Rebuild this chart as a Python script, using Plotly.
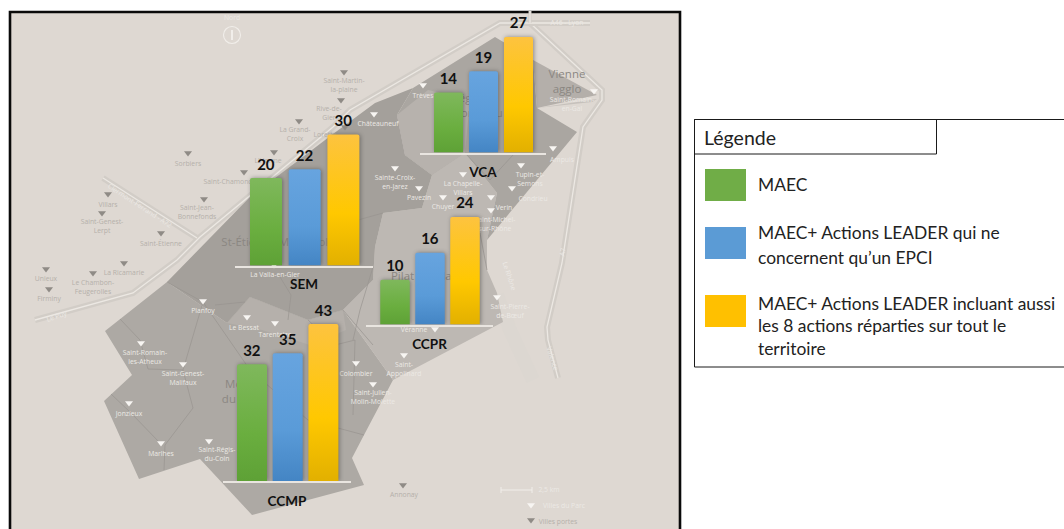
import plotly.graph_objects as go

# ---------- data ----------
groups = ["SEM", "VCA", "CCPR", "CCMP"]
series = ["MAEC", "MAEC+ Actions LEADER (EPCI)", "MAEC+ Actions LEADER (8 actions)"]
maec = [20, 14, 10, 32]
leader_epci = [22, 19, 16, 35]
leader_all = [30, 27, 24, 43]
series_colors = ["#6aae3f", "#5a9bd8", "#ffc800"]

legend_title = "Légende"
legend_items = [
    ["MAEC"],
    ["MAEC+ Actions LEADER qui ne", "concernent qu’un EPCI"],
    ["MAEC+ Actions LEADER incluant aussi", "les 8 actions réparties sur tout le", "territoire"],
]
legend_colors = ["#70ad47", "#5b9bd5", "#ffc000"]

park_cities = ["Planfoy", "Le Bessat", "Tarentaize", "Saint-Romain-<br>les-Atheux", "Saint-Genest-<br>Malifaux",
               "Jonzieux", "Marlhes", "Saint-Régis-<br>du-Coin", "Colombier", "Saint-Julien-<br>Molin-Molette",
               "Saint-<br>Appolinard", "Véranne", "Saint-Pierre-<br>de-Bœuf", "Châteauneuf", "Trèves",
               "Sainte-Croix-<br>en-Jarez", "Pavezin", "Chuyer", "La Chapelle-<br>Villars", "Condrieu", "Verin",
               "Saint-Michel-<br>sur-Rhône", "Tupin-et-<br>Semons", "Ampuis", "Saint-Romain-<br>en-Gal",
               "La Valla-en-Gier", "Villes du Parc"]
gate_cities = ["Sorbiers", "Saint-Chamond", "La Grand-<br>Croix", "Lorette", "Rive-de-<br>Gier", "Saint-Martin-<br>la-plaine",
               "L'Horme", "Saint-Jean-<br>Bonnefonds", "Villars", "Saint-Genest-<br>Lerpt", "Saint-Étienne",
               "La Ricamarie", "Le Chambon-<br>Feugerolles", "Unieux", "Firminy", "Annonay", "Villes portes"]

# ---------- page geometry (pixels of the 1064x529 page) ----------
W, H = 1064, 529
# baseline left, right, y, first bar centre, pitch, bar width, px per unit, title standoff
group_geo = {
    "SEM": (235, 373, 265.5, 266, 38.7, 32, 4.37, 13),
    "VCA": (420, 546, 152.5, 448.5, 35, 29, 4.28, 14),
    "CCPR": (366, 493, 324.5, 395, 35, 29.5, 4.48, 14),
    "CCMP": (223, 351, 481, 252, 35.7, 30, 3.65, 15),
}

park_marks = [(203, 301), (247, 317), (275, 323), (141, 343), (183, 364), (129, 403), (161, 443), (209, 441), (356, 363),
              (373, 384), (404, 355), (435, 329), (497, 297), (374, 114), (423, 85), (395, 168), (419, 188), (443, 197),
              (463, 174), (512, 188), (491, 197), (491, 210), (521, 165), (553, 148), (594, 91), (274, 265), (531, 505)]
park_labels = [(203, 311), (244, 328), (275, 335), (145, 358), (183, 379), (129, 414), (161, 454), (217, 455), (356, 374),
               (373, 398), (404, 370), (414, 330), (510, 312), (378, 124), (423, 96), (395, 183), (419, 198), (443, 207),
               (463, 189), (533, 199), (504, 208), (495, 225), (530, 180), (562, 160), (572, 105), (275, 275), (564, 506)]
gate_marks = [(188, 153), (244, 172), (299, 121), (345, 127), (341, 100), (344, 72), (274, 152), (204, 199), (108, 194),
              (102, 213), (161, 233), (124, 263), (93, 273), (46, 269), (49, 289), (403, 485), (531, 520)]
gate_labels = [(188, 164), (228, 182), (295, 135), (325, 135), (329, 114), (344, 86), (268, 161), (197, 213), (108, 205),
               (102, 227), (161, 244), (124, 273), (93, 288), (46, 279), (49, 299), (404, 495), (558, 522)]

territory = [
    ((105, 331), (167, 282), (227, 323), (250, 297), (308, 320), (343, 310), (393, 380), (364, 435), (352, 458),
     (364, 485), (252, 515), (200, 459), (139, 479), (104, 401), (132, 375), "#adA9a4"),
    ((227, 323), (250, 297), (308, 320), (343, 310), (346, 330), (310, 345), (262, 330), "#b5b0ab"),
    ((343, 310), (373, 280), (375, 247), (383, 213), (422, 208), (432, 175), (465, 153), (497, 193), (487, 240),
     (487, 270), (497, 293), (503, 322), (393, 380), "#bdb8b3"),
    ((167, 282), (227, 323), (250, 297), (308, 320), (343, 310), (373, 280), (375, 247), (383, 213), (422, 208), (432, 175),
     (405, 155), (397, 115), (413, 88), (375, 103), (333, 134), (250, 197), "#a4a09b"),
    ((413, 88), (495, 37), (533, 60), (537, 108), (577, 132), (487, 240), (497, 193), (465, 153), (432, 175), (405, 155),
     (397, 115), "#aaa6a1"),
    ((397, 115), (428, 90), (470, 100), (465, 153), (432, 175), (405, 155), "#b7b2ad"),
    ((533, 60), (597, 95), (537, 108), "#b4afaa"),
    ((537, 108), (597, 99), (592, 102), "#c6c1bc"),
]
inner_lines = [
    [(120, 319), (140, 340), (148, 369), (183, 370), (193, 408), (165, 445), (164, 470)],
    [(111, 394), (130, 412), (160, 443)],
    [(203, 302), (183, 370)],
    [(167, 282), (203, 302), (250, 370), (308, 420), (364, 435)],
    [(215, 305), (245, 302)],
    [(308, 320), (335, 345), (355, 340), (353, 415)],
    [(280, 277), (291, 295), (288, 320)],
    [(383, 213), (340, 225)],
    [(465, 153), (490, 180), (513, 155)],
    [(480, 233), (487, 270)],
    [(373, 267), (360, 310), (353, 340)],
    [(343, 310), (373, 345)],
]
road_main = [(35, 320), (133, 293), (177, 260), (200, 237), (333, 127), (350, 110), (500, 23), (530, 23), (602, 90),
             (602, 100), (583, 127), (562, 263), (547, 327), (548, 340), (558, 378)]
road_a72 = [(103, 178), (197, 238)]
road_a46 = [(530, 23), (590, 23)]
road_north = [(530, 11), (530, 23)]
river = [(497, 295), (510, 330), (533, 380)]


def svg_path(points, closed=True):
    cmd = "M" + " L".join(f"{x},{y}" for x, y in points)
    return cmd + (" Z" if closed else "")


fig = go.Figure()
shapes = []
# map frame
shapes.append(dict(type="rect", xref="x", yref="y", x0=10, y0=12, x1=680, y1=540, fillcolor="#ded8d2",
                   line=dict(color="#0a0a0a", width=2.6), layer="below"))
# faint river & roads
shapes.append(dict(type="path", xref="x", yref="y", path=svg_path(river, False), line=dict(color="#dcd7d1", width=14), layer="below"))
for pts, w in [(road_main, 6), (road_a72, 6), (road_a46, 6), (road_north, 3)]:
    shapes.append(dict(type="path", xref="x", yref="y", path=svg_path(pts, False), line=dict(color="#d2cdc7", width=w), layer="below"))
    shapes.append(dict(type="path", xref="x", yref="y", path=svg_path(pts, False), line=dict(color="#ece8e3", width=1.3), layer="below"))
# territory
for poly in territory:
    shapes.append(dict(type="path", xref="x", yref="y", path=svg_path(poly[:-1]), fillcolor=poly[-1],
                       line=dict(width=0), layer="below"))
for pts in inner_lines:
    shapes.append(dict(type="path", xref="x", yref="y", path=svg_path(pts, False), line=dict(color="#98948f", width=0.7), layer="below"))
# compass & scale bar
shapes.append(dict(type="circle", xref="x", yref="y", x0=223.5, y0=26.5, x1=240.5, y1=43.5,
                   line=dict(color="#f1eeea", width=1.1), layer="below"))
shapes.append(dict(type="line", xref="x", yref="y", x0=232, y0=30, x1=232, y1=40, line=dict(color="#f1eeea", width=2), layer="below"))
shapes.append(dict(type="line", xref="x", yref="y", x0=501, y0=490, x1=532, y1=490, line=dict(color="#f1eeea", width=1), layer="below"))
shapes.append(dict(type="line", xref="x", yref="y", x0=501, y0=487, x1=501, y1=493, line=dict(color="#f1eeea", width=1), layer="below"))
shapes.append(dict(type="line", xref="x", yref="y", x0=532, y0=487, x1=532, y1=493, line=dict(color="#f1eeea", width=1), layer="below"))
# legend box
shapes.append(dict(type="rect", xref="x", yref="y", x0=694.5, y0=119.5, x1=1070, y1=367, line=dict(color="#1a1a1a", width=1), fillcolor="#ffffff", layer="below"))
shapes.append(dict(type="rect", xref="x", yref="y", x0=694.5, y0=119.5, x1=936.5, y1=154, line=dict(color="#1a1a1a", width=1), layer="below"))
for c, (y0, y1) in zip(legend_colors, [(169, 201), (227, 259), (295, 327)]):
    shapes.append(dict(type="rect", xref="x", yref="y", x0=705, y0=y0, x1=746, y1=y1, fillcolor=c, line=dict(width=0), layer="below"))

# base map layer: full-page axis, drawn first so the bars cover it
fig.add_trace(go.Scatter(x=[p[0] for p in gate_marks], y=[p[1] for p in gate_marks], mode="markers", hoverinfo="skip",
                         marker=dict(symbol="triangle-down", size=7, color="#8f8b86"), showlegend=False))
fig.add_trace(go.Scatter(x=[p[0] for p in park_marks], y=[p[1] for p in park_marks], mode="markers", hoverinfo="skip",
                         marker=dict(symbol="triangle-down", size=7, color="#f7f5f2"), showlegend=False))
fig.add_trace(go.Scatter(x=[p[0] for p in gate_labels], y=[p[1] for p in gate_labels], mode="text", text=gate_cities, hoverinfo="skip",
                         textfont=dict(family="Open Sans", size=6.8, color="#b5b0aa"), showlegend=False))
fig.add_trace(go.Scatter(x=[p[0] for p in park_labels], y=[p[1] for p in park_labels], mode="text", text=park_cities, hoverinfo="skip",
                         textfont=dict(family="Open Sans", size=6.8, color="#ece9e5"), showlegend=False))
# big place names and road names below the bars
fig.add_trace(go.Scatter(
    x=[278, 242, 433, 567, 470], y=[243, 393, 277, 83, 107],
    text=["St-Étienne Métropole", "Monts<br>du Pilat", "Pilat Rhodanien", "Vienne<br>agglo", "Région<br>de Condrieu"],
    mode="text", hoverinfo="skip", showlegend=False,
    textfont=dict(family="Open Sans", size=11.5, color="#8b8782")))
fig.add_trace(go.Scatter(
    x=[232, 567, 549], y=[18, 23, 490], text=["Nord", "A46 - Lyon", "2,5 km"],
    mode="text", hoverinfo="skip", showlegend=False,
    textfont=dict(family="Open Sans", size=6.8, color="#ece9e5")))

layout_axes = dict(
    xaxis=dict(domain=[0, 1], range=[0, W], visible=False, fixedrange=True),
    yaxis=dict(domain=[0, 1], range=[H, 0], visible=False, fixedrange=True),
)

values_by_group = list(zip(maec, leader_epci, leader_all))
for i, (g, vals) in enumerate(zip(groups, values_by_group)):
    n = i + 2
    left, right, base, first, pitch, bw, scale, standoff = group_geo[g]
    top = max(vals) + 8
    fig.add_trace(go.Bar(
        x=series, y=list(vals), xaxis=f"x{n}", yaxis=f"y{n}", width=bw / pitch,
        marker=dict(color=series_colors, line=dict(width=0), cornerradius=2),
        text=[str(v) for v in vals], textposition="outside", cliponaxis=False,
        textangle=0, constraintext="none",
        textfont=dict(family="Lato", size=15, color="#111111", weight="bold"),
        showlegend=False, hovertemplate=g + " – %{x}: %{y}<extra></extra>",
    ))
    layout_axes[f"xaxis{n}"] = dict(
        domain=[left / W, right / W], anchor=f"y{n}", type="category", categoryorder="array", categoryarray=series,
        range=[(left - first) / pitch, (right - first) / pitch], showgrid=False, zeroline=False,
        showticklabels=False, ticks="", showline=True, linecolor="#e9e5e0", linewidth=1.6, fixedrange=True,
        title=dict(text=f"<b>{g}</b>", standoff=standoff, font=dict(family="Lato", size=13.5, color="#111111")),
    )
    layout_axes[f"yaxis{n}"] = dict(
        domain=[1 - base / H, 1 - (base - top * scale) / H], anchor=f"x{n}", range=[0, top], visible=False,
        fixedrange=True,
    )

# legend text
annotations = [dict(text=legend_title, x=701.5, y=137, xref="x", yref="y", xanchor="left", yanchor="middle", showarrow=False,
                    font=dict(family="Lato", size=19.5, color="#222222"))]
legend_line_y = [[184], [232, 257], [303, 325, 348]]
for lines, ys in zip(legend_items, legend_line_y):
    for line, y in zip(lines, ys):
        annotations.append(dict(text=line, x=755.5, y=y, xref="x", yref="y", xanchor="left", yanchor="middle", showarrow=False,
                                font=dict(family="Lato", size=17.4, color="#222222")))
for txt, x, y, ang in [("Clermont-Ferrand - A72", 140, 205, 33), ("Le Puy", 56, 316, -18), ("A7", 562, 252, -80),
                       ("Valence", 553, 358, 72), ("Le Rhône", 510, 276, 72)]:
    annotations.append(dict(text=txt, x=x, y=y, xref="x", yref="y", showarrow=False, textangle=ang,
                            font=dict(family="Open Sans", size=6.8, color="#ece9e5")))

fig.update_layout(
    width=W, height=H, autosize=False, margin=dict(l=0, r=0, t=0, b=0), paper_bgcolor="#ffffff", plot_bgcolor="rgba(0,0,0,0)",
    barmode="overlay", shapes=shapes, annotations=annotations, showlegend=False, **layout_axes,
)

post = """
document.body.style.margin = '0';
var gd = document.getElementsByClassName('plotly-graph-div')[0];
var stops = [['#7fb85c','#6aae3f','#5ea136'],['#67a4df','#5a9bd8','#4485c4'],['#fdc33f','#ffc800','#e2b000']];
var svg = gd.querySelector('svg.main-svg');
var ns = 'http://www.w3.org/2000/svg';
var defs = document.createElementNS(ns,'defs');
stops.forEach(function(s,i){
  var g = document.createElementNS(ns,'linearGradient');
  g.setAttribute('id','bargrad'+i); g.setAttribute('x1','0'); g.setAttribute('x2','0'); g.setAttribute('y1','0'); g.setAttribute('y2','1');
  [[0,s[0]],[0.6,s[1]],[1,s[2]]].forEach(function(t){
    var st = document.createElementNS(ns,'stop'); st.setAttribute('offset',t[0]); st.setAttribute('stop-color',t[1]); g.appendChild(st);
  });
  defs.appendChild(g);
});
svg.insertBefore(defs, svg.firstChild);
gd.querySelectorAll('.barlayer .trace.bars').forEach(function(tr){
  tr.querySelectorAll('.point').forEach(function(pt,i){
    var p = pt.querySelector('path');
    if(p){ p.style.fill = 'url(#bargrad'+i+')'; p.style.filter = 'drop-shadow(1px 0px 2px rgba(40,40,40,0.45))'; }
    var t = pt.querySelector('text');
    if(t){ t.setAttribute('transform', 'translate(0,-2.5) ' + (t.getAttribute('transform') || '')); }
  });
});
"""
fig.write_html("out.html", post_script=post, config={"displayModeBar": False})
